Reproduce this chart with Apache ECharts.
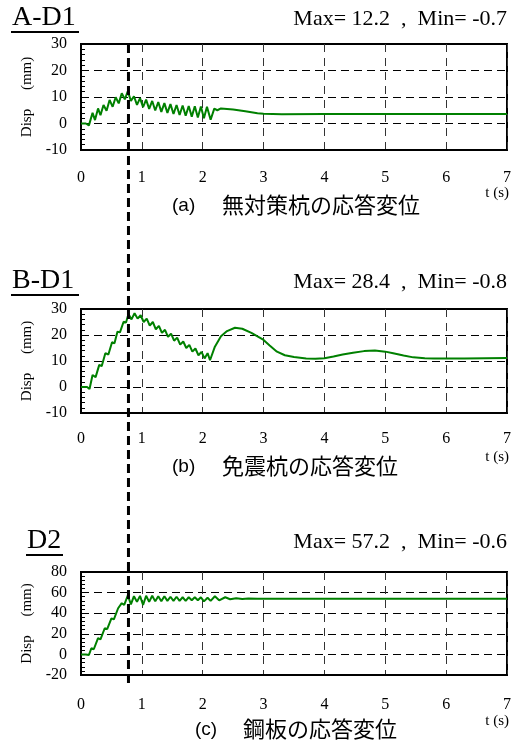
<!DOCTYPE html>
<html lang="ja">
<head>
<meta charset="UTF-8">
<title>応答変位</title>
<style>
  html, body { margin: 0; padding: 0; background: #fff; }
  #chart { width: 519px; height: 749px; }
</style>
</head>
<body>
<div id="chart"></div>
<script src="https://cdn.jsdelivr.net/npm/echarts@6/dist/echarts.min.js"></script>
<script>
// [t (s), Disp (mm)]
const dispA = [[0,0],[0.08,0],[0.13,-0.7],[0.19,4.0],[0.23,1.3],[0.28,5.7],[0.32,3.1],[0.37,7.0],[0.42,4.8],
  [0.47,8.9],[0.52,6.3],[0.57,9.9],[0.62,7.6],[0.67,11.4],[0.72,9.1],[0.77,12.2],[0.82,8.5],[0.87,10.3],
  [0.92,7.0],[0.97,9.6],[1.02,6.2],[1.07,9.0],[1.12,5.5],[1.17,8.5],[1.22,4.9],[1.27,8.1],[1.32,4.4],
  [1.37,7.7],[1.42,4.0],[1.47,7.3],[1.52,3.6],[1.57,7.0],[1.62,3.2],[1.67,6.8],[1.72,2.9],[1.77,6.6],
  [1.82,2.6],[1.87,6.5],[1.92,2.3],[1.97,6.4],[2.02,2.0],[2.07,6.3],[2.13,1.4],[2.19,5.6],[2.24,5.0],
  [2.3,5.7],[2.4,5.5],[2.5,5.3],[2.7,4.6],[2.9,3.9],[3.0,3.7],[3.3,3.5],[4,3.6],[5,3.6],[6,3.6],[7,3.6]];

const dispB = [[0,0],[0.1,0],[0.14,-0.8],[0.19,4.6],[0.24,3.8],[0.30,8.5],[0.34,8.0],[0.40,13.0],[0.45,12.5],
  [0.51,17.2],[0.55,16.8],[0.60,21.3],[0.64,21.0],[0.70,25.1],[0.74,24.8],[0.78,28.1],[0.83,26.0],[0.88,28.4],
  [0.93,26.3],[0.98,27.6],[1.03,25.0],[1.08,26.3],[1.13,23.6],[1.18,25.0],[1.23,22.2],[1.28,23.5],[1.33,20.8],
  [1.38,22.0],[1.43,19.3],[1.48,20.5],[1.53,17.8],[1.58,19.0],[1.63,16.3],[1.68,17.5],[1.73,15.0],[1.78,16.2],
  [1.83,13.6],[1.88,14.8],[1.93,12.2],[1.98,13.5],[2.03,11.0],[2.08,13.0],[2.12,10.3],[2.2,15.5],[2.3,19.5],
  [2.4,21.5],[2.53,22.8],[2.65,22.4],[2.8,20.8],[3.0,18.1],[3.1,16.0],[3.22,13.6],[3.35,12.2],[3.5,11.5],
  [3.7,11.0],[3.85,10.9],[4.0,11.1],[4.15,11.7],[4.3,12.5],[4.47,13.2],[4.65,13.8],[4.83,14.0],[5.0,13.6],
  [5.13,13.0],[5.3,12.1],[5.46,11.4],[5.65,11.1],[5.8,11.0],[6.3,11.0],[7,11.2]];

const dispC = [[0,0],[0.08,0],[0.13,-0.6],[0.17,6],[0.21,5],[0.28,15.7],[0.32,14.5],[0.39,25.4],[0.43,24.5],
  [0.5,35],[0.54,34],[0.61,44.8],[0.63,43],[0.67,49.7],[0.71,48],[0.77,57.2],[0.82,48.5],[0.87,56.5],
  [0.92,51],[0.97,56.8],[1.02,48],[1.07,57],[1.12,51],[1.17,57],[1.22,51.5],[1.27,56.5],[1.32,51.5],
  [1.37,56.5],[1.42,52],[1.47,56],[1.52,52],[1.57,56],[1.62,52],[1.67,55.5],[1.72,52],[1.77,55.5],
  [1.82,52.5],[1.87,55.5],[1.92,52.5],[1.97,55.5],[2.02,51.5],[2.08,55],[2.13,52],[2.2,56.5],[2.27,52.5],
  [2.37,55.5],[2.45,53.5],[2.55,54.5],[2.65,53.8],[2.75,54.3],[2.9,54],[7,54]];

const panelNames = ['A-D1', 'B-D1', 'D2'];
const maxMin = ['Max= 12.2  ,  Min= -0.7', 'Max= 28.4  ,  Min= -0.8', 'Max= 57.2  ,  Min= -0.6'];
const captionTags = ['(a)', '(b)', '(c)'];
const captions = ['無対策杭の応答変位', '免震杭の応答変位', '鋼板の応答変位'];
const yRange = [[-10, 30, 10], [-10, 30, 10], [-20, 80, 20]];
const markT = 0.78; // 縦の太い破線

const serif = 'Liberation Serif, Times New Roman, serif';
const green = '#008000';

// layout of each panel (px)
const grids = [
  { top: 44, height: 106, label: 20, head: 20, cap: 207, ts: 194, nameX: 12, nameW: 67 },
  { top: 309, height: 104, label: 18, head: 283, cap: 468, ts: 458, nameX: 12, nameW: 67 },
  { top: 572, height: 103, label: 22, head: 543, cap: 731, ts: 722, nameX: 27, nameW: 36 }
];

const echart = echarts.init(document.getElementById('chart'));

const graphics = [];
grids.forEach((g, i) => {
  graphics.push({
    type: 'text', left: g.nameX, top: g.head - 16,
    style: { text: panelNames[i], fontFamily: serif, fontSize: 28, fill: '#000' }
  });
  // 下線
  graphics.push({
    type: 'line',
    shape: { x1: g.nameX - 1, y1: g.head + 12, x2: g.nameX + g.nameW, y2: g.head + 12 },
    style: { stroke: '#000', lineWidth: 2 }
  });
  graphics.push({
    type: 'text', right: 12, top: g.head - 12,
    style: { text: maxMin[i], fontFamily: serif, fontSize: 22, fill: '#000' }
  });
  graphics.push({
    type: 'text', right: 10, top: g.ts - 8,
    style: { text: 't (s)', fontFamily: serif, fontSize: 15, fill: '#000' }
  });
  graphics.push({
    type: 'text', left: i === 2 ? 195 : 172, top: g.cap - 11,
    style: { text: captionTags[i], fontFamily: 'Liberation Sans, Arial, sans-serif', fontSize: 19, fill: '#000' }
  });
  graphics.push({
    type: 'text', left: i === 2 ? 243 : 222, top: g.cap - 13,
    style: { text: captions[i], fontFamily: 'Noto Sans CJK JP', fontSize: 22, fill: '#000' }
  });
});

const data = [dispA, dispB, dispC];

echart.setOption({
  animation: false,
  grid: grids.map(g => ({
    left: 81, width: 426, top: g.top, height: g.height,
    show: true, borderColor: '#000', borderWidth: 2
  })),
  xAxis: grids.map((g, i) => ({
    gridIndex: i, type: 'value', min: 0, max: 7, interval: 1,
    axisLine: { show: true, onZero: false, lineStyle: { color: '#000', width: 2 } },
    axisTick: { show: false },
    axisLabel: { margin: g.label, fontFamily: serif, fontSize: 16, color: '#000' },
    splitLine: { show: true, lineStyle: { type: [8, 6], color: '#333', width: 1 } }
  })),
  yAxis: grids.map((g, i) => ({
    gridIndex: i, type: 'value', min: yRange[i][0], max: yRange[i][1], interval: yRange[i][2],
    axisLine: { show: true, onZero: false, lineStyle: { color: '#000', width: 2 } },
    axisTick: { show: true, inside: true, length: 5, lineStyle: { color: '#000' } },
    minorTick: { show: true, splitNumber: 5, length: 4, lineStyle: { color: '#000' } },
    axisLabel: { margin: 14, fontFamily: serif, fontSize: 16, color: '#000' },
    splitLine: { show: true, lineStyle: { type: [8, 5], color: '#000', width: 1 } },
    name: 'Disp     (mm)', nameLocation: 'middle', nameGap: 46, nameRotate: 90,
    nameTextStyle: { fontFamily: serif, fontSize: 15, color: '#000' }
  })),
  series: data.map((d, i) => ({
    type: 'line', xAxisIndex: i, yAxisIndex: i, data: d,
    showSymbol: false, symbol: 'none',
    lineStyle: { color: green, width: 2 }
  })),
  graphic: graphics
});

// 縦の破線：一番上のグラフの上端から最下段の目盛り下まで
const pTop = echart.convertToPixel({ gridIndex: 0 }, [markT, yRange[0][1]]);
const pBot = echart.convertToPixel({ gridIndex: 2 }, [markT, yRange[2][0]]);
echart.setOption({
  graphic: graphics.concat([{
    type: 'line', z: 100,
    shape: { x1: pTop[0], y1: pTop[1], x2: pTop[0], y2: pBot[1] + 12 },
    style: { stroke: '#000', lineWidth: 3, lineDash: [9, 5] }
  }])
});
</script>
</body>
</html>
